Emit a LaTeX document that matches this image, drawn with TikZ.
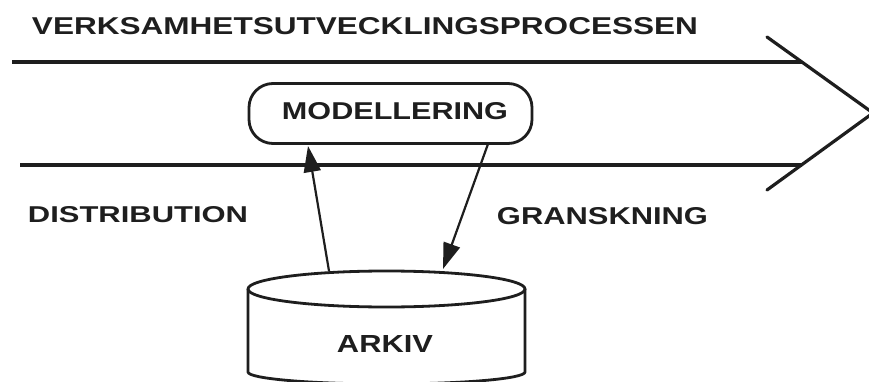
\documentclass[tikz,border=0pt]{standalone}
\usepackage{fontspec}
\usepackage{graphicx}
\setmainfont{Liberation Sans}
\usetikzlibrary{arrows.meta}
\definecolor{ink}{HTML}{1E1E1E}
\tikzset{
  label/.style={inner sep=0pt, text=ink, font=\bfseries},
  rule/.style={draw=ink, line width=3.2pt},
  outline/.style={draw=ink, line width=2.8pt},
  flow/.style={draw=ink, line width=2.2pt, -{Triangle[length=26pt,width=17pt]}},
}
% fixed-size lettering: \lbl{width}{cap height}{text}
\newcommand{\lbl}[3]{\resizebox{#1pt}{#2pt}{#3}}
\begin{document}
\begin{tikzpicture}[x=1pt,y=-1pt]
  \useasboundingbox[fill=white] (0,0) rectangle (869,382);

  % process band with chevron head
  \coordinate (tl) at (12,62);
  \coordinate (tr) at (802,62);
  \coordinate (bl) at (20,165);
  \coordinate (br) at (802,165);
  \coordinate (cup) at (767,37);
  \coordinate (tip) at (873,113);
  \coordinate (clo) at (767,190);
  \draw[rule] (tl) -- (tr);
  \draw[rule] (bl) -- (br);
  \draw[rule, line cap=round] (cup) -- (tip) -- (clo);

  \node[label] (title) at (365,26.5)
    {\lbl{666}{17}{VERKSAMHETSUTVECKLINGSPROCESSEN}};

  % modelling box
  \node[outline, rounded corners=24pt, minimum width=283pt, minimum height=60pt,
        inner sep=0pt] (model) at (390.5,113.5) {};
  \node[label] (modeltxt) at (395,111.5) {\lbl{226}{17}{MODELLERING}};

  % archive cylinder
  \draw[outline, fill=white] (248,289) -- (248,372)
     arc[start angle=180, end angle=360, x radius=138.5, y radius=-12]
     -- (525,289);
  \draw[outline] (386.5,289) ellipse[x radius=138.5, y radius=18];
  \node[label] (arkiv) at (385,343.5) {\lbl{96}{17}{ARKIV}};

  % flows between archive and modelling
  \coordinate (dfrom) at (329,271);
  \coordinate (dto) at (308,146);
  \coordinate (gfrom) at (488,144);
  \coordinate (gto) at (443,269);
  \draw[flow] (dfrom) -- (dto);
  \draw[flow] (gfrom) -- (gto);

  \node[label] (distr) at (138,215) {\lbl{220}{16}{DISTRIBUTION}};
  \node[label] (gransk) at (602.5,216.5) {\lbl{211}{17}{GRANSKNING}};
\end{tikzpicture}
\end{document}
